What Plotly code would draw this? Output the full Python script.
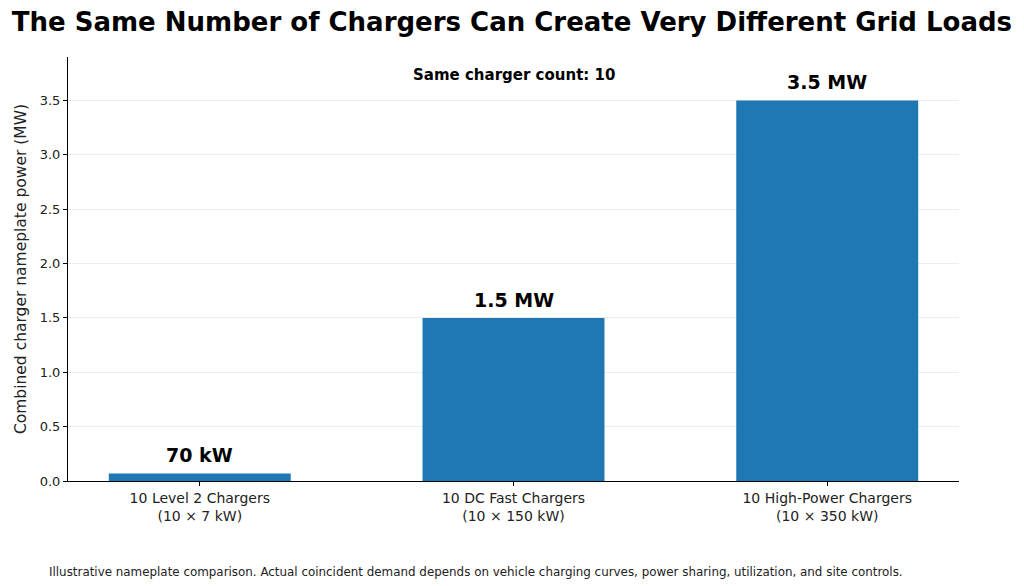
import plotly.graph_objects as go

categories = ["10 Level 2 Chargers<br>(10 × 7 kW)",
              "10 DC Fast Chargers<br>(10 × 150 kW)",
              "10 High-Power Chargers<br>(10 × 350 kW)"]
power_mw = [0.07, 1.5, 3.5]
value_labels = ["70 kW", "1.5 MW", "3.5 MW"]
y_ticks = [0.0, 0.5, 1.0, 1.5, 2.0, 2.5, 3.0, 3.5]

FONT = "DejaVu Sans"

fig = go.Figure()
fig.add_trace(go.Bar(
    x=[0, 1, 2], y=power_mw, width=0.58,
    marker=dict(color="#1f77b4", line=dict(width=0)),
    hoverinfo="skip",
))

# value labels above each bar
labels = [
    dict(x=i, y=v, xref="x", yref="y", text=f"<b>{t}</b>", showarrow=False,
         yanchor="middle", yshift=18,
         font=dict(family=FONT, size=19, color="black"))
    for i, (v, t) in enumerate(zip(power_mw, value_labels))
]

# page body has an 8px margin, so the figure is sized 8px smaller
fig.update_layout(
    width=1016, height=578,
    paper_bgcolor="white", plot_bgcolor="white",
    margin=dict(l=57, r=65, t=49, b=105),
    font=dict(family=FONT, size=12, color="#222"),
    showlegend=False,
    title=dict(text="<b>The Same Number of Chargers Can Create Very Different Grid Loads</b>",
               x=0.496, xanchor="center", y=0.976, yanchor="middle",
               font=dict(family=FONT, size=26, color="black")),
    xaxis=dict(range=[-0.42, 2.42], tickvals=[0, 1, 2], ticktext=categories,
               showline=True, linecolor="black", linewidth=1,
               ticks="outside", ticklen=4, tickcolor="black",
               showgrid=False, zeroline=False,
               tickfont=dict(size=14, color="#222")),
    yaxis=dict(range=[0, 3.9], tickvals=y_ticks,
               ticktext=[f"{v:.1f}" for v in y_ticks],
               showline=True, linecolor="black", linewidth=1,
               ticks="outside", ticklen=4, tickcolor="black",
               showgrid=True, gridcolor="#ececec", gridwidth=1,
               zeroline=False,
               title=dict(text="Combined charger nameplate power (MW)",
                          font=dict(size=15.5, color="#222"), standoff=9),
               tickfont=dict(size=13, color="#222")),
    annotations=labels + [
        dict(text="<b>Same charger count: 10</b>", xref="paper", yref="paper",
             x=0.5, y=0.9575, xanchor="center", yanchor="middle", showarrow=False,
             font=dict(family=FONT, size=15, color="black")),
        dict(text="Illustrative nameplate comparison. Actual coincident demand depends on vehicle charging curves, power sharing, utilization, and site controls.",
             xref="paper", yref="paper", x=-0.0235, y=-0.2146, xanchor="left", yanchor="middle",
             showarrow=False, font=dict(family=FONT, size=11.9, color="#222")),
    ],
)

fig.write_html("out.html")
